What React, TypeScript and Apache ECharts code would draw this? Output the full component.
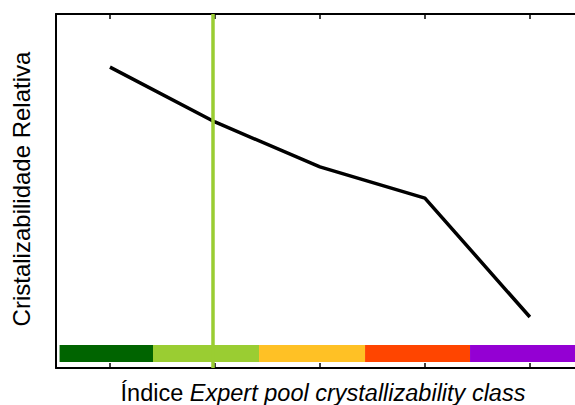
import React, { useEffect, useRef } from "react";
import * as echarts from "echarts";

// Class index positions (x) and relative crystallizability (y)
const classIndex = [1, 2, 3, 4, 5];
const crystallizability = [0.85, 0.695, 0.568, 0.48, 0.144];
// Coloured class band: edges along the x axis and colours
const bandEdges = [0.52, 1.41, 2.42, 3.43, 4.43, 5.43];
const bandColors = ["#006400", "#9ACD32", "#FFC125", "#FF4500", "#9400D3"];
const bandLow = 0.017;
const bandHigh = 0.065;
// Threshold marker position
const thresholdX = 1.98;
const tickValues = [1, 2, 3, 4, 5];

const xMin = 0.486;
const xMax = 5.43;

export default function App() {
  const ref = useRef<HTMLDivElement>(null);
  useEffect(() => {
    if (!ref.current) return;
    const chart = echarts.init(ref.current, undefined, { renderer: "svg" });
    const axisCommon = {
      type: "value" as const,
      min: xMin,
      max: xMax,
      axisLine: { show: true, onZero: false, lineStyle: { color: "#000", width: 2 } },
      axisTick: { show: true, inside: true, length: 5, customValues: tickValues, lineStyle: { color: "#000", width: 1.5 } },
      axisLabel: { show: false },
      splitLine: { show: false },
    };
    chart.setOption({
      animation: false,
      backgroundColor: "#fff",
      grid: { left: 56, right: 0, top: 14, bottom: 37 },
      xAxis: [
        { ...axisCommon, position: "bottom" },
        { ...axisCommon, position: "top" },
      ],
      yAxis: {
        type: "value",
        min: 0,
        max: 1,
        axisLine: { show: true, onZero: false, lineStyle: { color: "#000", width: 2 } },
        axisTick: { show: false },
        axisLabel: { show: false },
        splitLine: { show: false },
      },
      series: [
        {
          type: "line",
          xAxisIndex: 0,
          data: classIndex.map((x, i) => [x, crystallizability[i]]),
          symbol: "none",
          lineStyle: { color: "#000", width: 3.5 },
          z: 3,
          markArea: {
            silent: true,
            data: bandColors.map((c, i) => [
              { xAxis: bandEdges[i], yAxis: bandLow, itemStyle: { color: c } },
              { xAxis: bandEdges[i + 1], yAxis: bandHigh },
            ]),
          },
        },
        {
          type: "line",
          xAxisIndex: 0,
          data: [],
          z: 5,
          markLine: {
            silent: true,
            symbol: "none",
            label: { show: false },
            lineStyle: { color: "#9ACD32", width: 3.5, type: "solid" },
            data: [{ xAxis: thresholdX }],
          },
        },
      ],
      graphic: [
        {
          type: "text",
          x: 21,
          y: 189,
          rotation: Math.PI / 2,
          style: {
            text: "Cristalizabilidade Relativa",
            font: "24px 'Liberation Sans', Arial, sans-serif",
            fill: "#000",
            align: "center",
            verticalAlign: "middle",
          },
        },
        {
          type: "text",
          x: 323,
          y: 393,
          style: {
            text: "{n|Índice }{i|Expert pool crystallizability class}",
            align: "center",
            verticalAlign: "middle",
            rich: {
              n: { font: "23.5px 'Liberation Sans', Arial, sans-serif", fill: "#000" },
              i: { font: "italic 23.5px 'Liberation Sans', Arial, sans-serif", fill: "#000" },
            },
          },
        },
      ],
    });
    return () => chart.dispose();
  }, []);
  return (
    <div
      ref={ref}
      style={{ position: "fixed", left: 0, top: 0, width: 575, height: 405 }}
    />
  );
}
